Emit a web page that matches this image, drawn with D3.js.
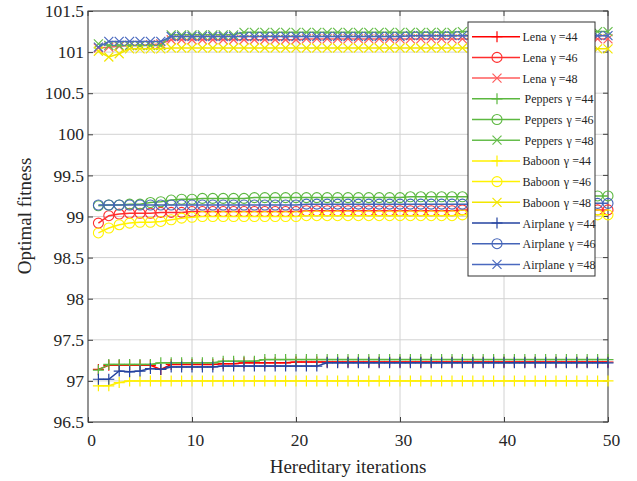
<!DOCTYPE html>
<html><head><meta charset="utf-8">
<script src="https://cdn.jsdelivr.net/npm/d3@7"></script>
<style>body{margin:0;background:#fff}svg{display:block}text{font-family:"Liberation Serif","Times New Roman",serif !important;fill:#262626}</style>
</head><body>
<script>
const xTicks = [0,10,20,30,40,50];
const yTicks = [96.5,97,97.5,98,98.5,99,99.5,100,100.5,101,101.5];
const yTickLabels = ["96.5","97","97.5","98","98.5","99","99.5","100","100.5","101","101.5"];
const seriesNames = ["Lena","Lena","Lena","Peppers","Peppers","Peppers","Baboon","Baboon","Baboon","Airplane","Airplane","Airplane"];
const gammas = ["44","46","48","44","46","48","44","46","48","44","46","48"];
const lena44 = [97.14,97.19,97.19,97.19,97.19,97.19,97.14,97.20,97.20,97.20,97.20,97.20,97.21,97.21,97.22,97.22,97.22,97.22,97.22,97.23,97.23,97.23,97.23,97.23,97.23,97.23,97.23,97.23,97.23,97.23,97.23,97.23,97.23,97.23,97.23,97.23,97.23,97.23,97.23,97.23,97.23,97.23,97.23,97.23,97.23,97.23,97.23,97.23,97.23,97.23];
const lena46 = [98.92,99.01,99.03,99.04,99.04,99.04,99.05,99.05,99.05,99.06,99.06,99.06,99.06,99.06,99.06,99.06,99.06,99.06,99.06,99.06,99.07,99.07,99.07,99.07,99.07,99.07,99.07,99.07,99.07,99.07,99.07,99.07,99.07,99.07,99.07,99.08,99.08,99.08,99.08,99.08,99.08,99.08,99.08,99.08,99.08,99.08,99.08,99.08,99.08,99.08];
const lena48 = [101.05,101.06,101.07,101.08,101.08,101.09,101.10,101.15,101.15,101.15,101.15,101.15,101.15,101.15,101.15,101.15,101.15,101.15,101.15,101.15,101.16,101.16,101.16,101.16,101.16,101.16,101.16,101.16,101.16,101.16,101.16,101.16,101.16,101.16,101.16,101.16,101.16,101.16,101.16,101.16,101.16,101.16,101.16,101.16,101.16,101.16,101.16,101.16,101.16,101.16];
const peppers44 = [97.13,97.20,97.20,97.20,97.20,97.20,97.22,97.22,97.22,97.22,97.22,97.22,97.24,97.24,97.24,97.24,97.26,97.26,97.26,97.26,97.26,97.26,97.26,97.26,97.26,97.26,97.26,97.26,97.26,97.26,97.26,97.26,97.26,97.26,97.26,97.26,97.26,97.26,97.26,97.26,97.26,97.26,97.26,97.26,97.26,97.26,97.26,97.26,97.26,97.26];
const peppers46 = [99.13,99.14,99.14,99.15,99.15,99.17,99.18,99.20,99.21,99.21,99.22,99.22,99.22,99.22,99.22,99.23,99.23,99.23,99.23,99.23,99.23,99.23,99.23,99.23,99.23,99.23,99.23,99.23,99.23,99.23,99.24,99.24,99.24,99.24,99.24,99.24,99.24,99.24,99.24,99.24,99.24,99.24,99.24,99.24,99.24,99.25,99.25,99.25,99.25,99.25];
const peppers48 = [101.10,101.08,101.08,101.08,101.08,101.08,101.08,101.21,101.21,101.21,101.21,101.21,101.21,101.21,101.24,101.24,101.24,101.24,101.24,101.24,101.24,101.24,101.24,101.24,101.24,101.24,101.24,101.24,101.24,101.24,101.24,101.24,101.24,101.24,101.24,101.25,101.25,101.25,101.25,101.25,101.25,101.25,101.25,101.25,101.25,101.25,101.25,101.25,101.25,101.25];
const baboon44 = [96.94,96.94,96.98,97.00,97.00,97.00,97.00,97.00,97.00,97.00,97.00,97.00,97.00,97.00,97.00,97.00,97.00,97.00,97.00,97.00,97.00,97.00,97.00,97.00,97.00,97.00,97.00,97.00,97.00,97.00,97.00,97.00,97.00,97.00,97.00,97.00,97.00,97.00,97.00,97.00,97.00,97.00,97.00,97.00,97.00,97.00,97.00,97.00,97.00,97.00];
const baboon46 = [98.80,98.86,98.90,98.92,98.93,98.93,98.94,98.96,98.98,98.99,99.00,99.00,99.00,99.00,99.00,99.00,99.00,99.00,99.00,99.00,99.01,99.01,99.01,99.01,99.01,99.01,99.01,99.01,99.01,99.01,99.01,99.01,99.01,99.01,99.01,99.02,99.02,99.02,99.02,99.02,99.02,99.02,99.02,99.02,99.02,99.02,99.02,99.02,99.02,99.02];
const baboon48 = [101.01,100.94,100.98,101.04,101.04,101.04,101.04,101.05,101.05,101.05,101.05,101.05,101.05,101.05,101.05,101.05,101.05,101.05,101.05,101.05,101.05,101.05,101.05,101.05,101.05,101.05,101.05,101.05,101.05,101.05,101.05,101.05,101.05,101.05,101.05,101.05,101.05,101.05,101.05,101.05,101.04,101.04,101.04,101.04,101.04,101.04,101.04,101.04,101.04,101.04];
const airplane44 = [97.02,97.02,97.12,97.11,97.12,97.15,97.14,97.17,97.17,97.17,97.17,97.17,97.18,97.18,97.18,97.18,97.18,97.18,97.18,97.18,97.18,97.18,97.22,97.22,97.22,97.22,97.22,97.22,97.22,97.22,97.22,97.22,97.22,97.22,97.22,97.22,97.22,97.22,97.22,97.22,97.22,97.22,97.22,97.22,97.22,97.22,97.22,97.22,97.22,97.22];
const airplane46 = [99.14,99.14,99.14,99.14,99.14,99.14,99.14,99.14,99.14,99.14,99.14,99.14,99.14,99.14,99.14,99.14,99.14,99.14,99.14,99.14,99.15,99.15,99.15,99.15,99.15,99.15,99.15,99.15,99.15,99.15,99.15,99.15,99.15,99.15,99.15,99.15,99.15,99.15,99.15,99.15,99.16,99.16,99.16,99.16,99.16,99.16,99.16,99.16,99.16,99.16];
const airplane48 = [101.06,101.13,101.13,101.13,101.13,101.13,101.13,101.19,101.19,101.19,101.19,101.19,101.19,101.19,101.19,101.19,101.19,101.19,101.19,101.19,101.19,101.19,101.19,101.19,101.19,101.19,101.19,101.19,101.19,101.19,101.20,101.20,101.20,101.20,101.20,101.20,101.20,101.20,101.20,101.20,101.20,101.20,101.20,101.20,101.20,101.20,101.20,101.20,101.20,101.20];
const allValues = [lena44,lena46,lena48,peppers44,peppers46,peppers48,baboon44,baboon46,baboon48,airplane44,airplane46,airplane48];
const colors = ["#ff0000","#ff2e2e","#ff5c5c","#5cb840","#5cb840","#66bd4c","#fff000","#fff200","#f2e600","#2443a0","#4464b8","#4a69bf"];
const markers = ["plus","circle","cross","plus","circle","cross","plus","circle","cross","plus","circle","cross"];

const W=637,H=481;
const svg=d3.select("body").append("svg").attr("width",W).attr("height",H);
const x=d3.scaleLinear().domain([0,50]).range([88,608]);
const y=d3.scaleLinear().domain([96.5,101.5]).range([422,11]);

// grid
svg.append("g").selectAll("line").data(xTicks).join("line")
 .attr("x1",d=>x(d)).attr("x2",d=>x(d)).attr("y1",y(96.5)).attr("y2",y(101.5))
 .attr("stroke","#d2d2d2").attr("stroke-width",1);
svg.append("g").selectAll("line").data(yTicks).join("line")
 .attr("x1",x(0)).attr("x2",x(50)).attr("y1",d=>y(d)).attr("y2",d=>y(d))
 .attr("stroke","#d2d2d2").attr("stroke-width",1);

// axes
const xa=svg.append("g").attr("transform",`translate(0,${y(96.5)})`)
 .call(d3.axisBottom(x).tickValues(xTicks).tickSizeInner(-5).tickSizeOuter(0).tickPadding(12));
const ya=svg.append("g").attr("transform",`translate(${x(0)},0)`)
 .call(d3.axisLeft(y).tickValues(yTicks).tickFormat((d,i)=>yTickLabels[i]).tickSizeInner(-5).tickSizeOuter(0).tickPadding(4));
[xa,ya].forEach(a=>{a.attr("font-family",null).attr("font-size",null);
 a.select(".domain").remove();a.selectAll("line").attr("stroke","#404040");
 a.selectAll("text").style("font-size","17.5px").style("font-family","'Liberation Serif', serif").attr("fill","#262626");});
xa.selectAll("text").attr("dx","3");
svg.append("rect").attr("x",x(0)).attr("y",y(101.5)).attr("width",x(50)-x(0)).attr("height",y(96.5)-y(101.5))
 .attr("fill","none").attr("stroke","#404040").attr("stroke-width",1);

// top/right ticks
svg.append("g").selectAll("line").data(xTicks).join("line")
 .attr("x1",d=>x(d)).attr("x2",d=>x(d)).attr("y1",y(101.5)).attr("y2",y(101.5)+5).attr("stroke","#404040");
svg.append("g").selectAll("line").data(yTicks).join("line")
 .attr("x1",x(50)).attr("x2",x(50)-5).attr("y1",d=>y(d)).attr("y2",d=>y(d)).attr("stroke","#404040");

function drawMarker(g,type,cx,cy,color){
  if(type==="plus"){
    g.append("path").attr("d",`M${cx-5.5},${cy}H${cx+5.5}M${cx},${cy-5.5}V${cy+5.5}`).attr("stroke",color).attr("stroke-width",1.2).attr("fill","none");
  } else if(type==="circle"){
    g.append("circle").attr("cx",cx).attr("cy",cy).attr("r",5).attr("stroke",color).attr("stroke-width",1.1).attr("fill","none");
  } else {
    g.append("path").attr("d",`M${cx-4.5},${cy-4.5}L${cx+4.5},${cy+4.5}M${cx-4.5},${cy+4.5}L${cx+4.5},${cy-4.5}`).attr("stroke",color).attr("stroke-width",1.2).attr("fill","none");
  }
}

const line=d3.line().x((d,i)=>x(i+1)).y(d=>y(d));
const plot=svg.append("g");
allValues.forEach((vals,k)=>{
  const g=plot.append("g");
  g.append("path").datum(vals).attr("d",line).attr("fill","none").attr("stroke",colors[k]).attr("stroke-width",1.5);
  vals.forEach((v,i)=>drawMarker(g,markers[k],x(i+1),y(v),colors[k]));
});

// legend
const lg=svg.append("g");
lg.append("rect").attr("x",468).attr("y",22).attr("width",127).attr("height",254).attr("fill","#fff").attr("stroke","#333").attr("stroke-width",1);
seriesNames.forEach((n,k)=>{
  const ly=36.7+k*20.7;
  lg.append("line").attr("x1",472).attr("x2",520).attr("y1",ly).attr("y2",ly).attr("stroke",colors[k]).attr("stroke-width",1.5);
  drawMarker(lg,markers[k],497,ly,colors[k]);
  const tx = n==="Peppers"?524.5:522.5;
  const t=lg.append("text").attr("x",tx).attr("y",ly+4.5).style("font-size","12px");
  t.append("tspan").text(n);
  t.append("tspan").attr("dx","4").text("\u03b3 ="+gammas[k]);
});

// labels
svg.append("text").attr("x",348).attr("y",473).attr("text-anchor","middle").style("font-size","19px").text("Hereditary iterations");
svg.append("text").attr("transform","translate(31,216) rotate(-90)").attr("text-anchor","middle").style("font-size","19px").text("Optimal fitness");
</script>
</body></html>
